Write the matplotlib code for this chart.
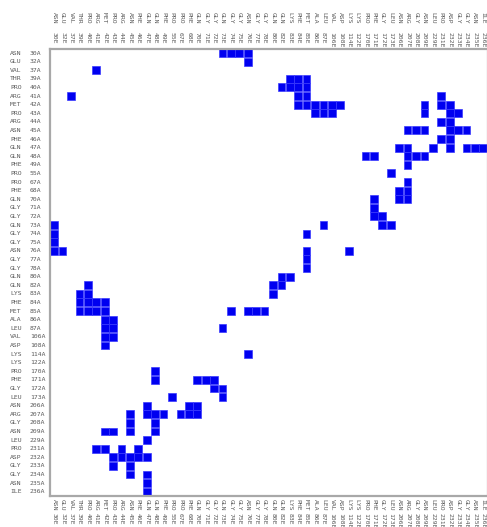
import matplotlib
matplotlib.use("Agg")
import matplotlib.pyplot as plt
from matplotlib.patches import Rectangle
from matplotlib import transforms

res_names = ["ASN", "GLU", "VAL", "THR", "PRO", "ARG", "MET", "PRO", "ARG", "ASN",
             "PHE", "GLN", "GLN", "PHE", "PRO", "PRO", "PHE", "GLN", "GLY", "GLY",
             "GLN", "GLY", "GLY", "ASN", "GLY", "GLY", "GLN", "GLN", "LYS", "PHE",
             "MET", "ALA", "LEU", "VAL", "ASP", "LYS", "LYS", "PRO", "PHE", "GLY",
             "LEU", "ASN", "ARG", "GLY", "ASN", "LEU", "PRO", "ASP", "GLY", "GLY",
             "ASN", "ILE"]
res_nums = [30, 32, 37, 39, 40, 41, 42, 43, 44, 45, 46, 47, 48, 49, 55, 67, 68, 70, 71, 72,
            73, 74, 75, 76, 77, 78, 80, 82, 83, 84, 85, 86, 87, 106, 108, 114, 122, 170, 171, 172,
            173, 206, 207, 208, 209, 229, 231, 232, 233, 234, 235, 236]
row_chain = "A"
col_chain = "E"

# contacts: row index (chain A residue) -> column indices (chain E residue)
contacts = {
    0: [20, 21, 22, 23],
    1: [23],
    2: [5],
    3: [28, 29, 30],
    4: [27, 28, 29, 30],
    5: [2, 29, 30, 46],
    6: [29, 30, 31, 32, 33, 34, 44, 46, 47],
    7: [31, 32, 33, 44, 47, 48],
    8: [46, 47],
    9: [42, 43, 44, 47, 48, 49],
    10: [46, 47],
    11: [41, 42, 45, 47, 49, 50, 51],
    12: [37, 38, 42, 43, 44],
    13: [42],
    14: [40],
    15: [42],
    16: [41, 42],
    17: [38, 41, 42],
    18: [38],
    19: [38, 39],
    20: [0, 32, 39, 40],
    21: [0, 30],
    22: [0],
    23: [0, 1, 30, 35],
    24: [30],
    25: [30],
    26: [27, 28],
    27: [4, 26, 27],
    28: [3, 4, 26],
    29: [3, 4, 5, 6],
    30: [3, 4, 5, 6, 21, 23, 24, 25],
    31: [6, 7],
    32: [6, 7, 20],
    33: [6, 7],
    34: [6],
    35: [23],
    37: [12],
    38: [12, 17, 18, 19],
    39: [19, 20],
    40: [14, 20],
    41: [11, 16, 17],
    42: [9, 11, 12, 13, 15, 16, 17],
    43: [9, 12],
    44: [6, 7, 9, 12],
    45: [11],
    46: [5, 6, 8, 10],
    47: [7, 8, 9, 10, 11],
    48: [7, 9],
    49: [9, 11],
    50: [11],
    51: [11],
}

W, H = 487, 527
fig = plt.figure(figsize=(W / 100, H / 100), dpi=100)
n = len(res_names)
left_px, right_px, top_px, bot_px = 50, 487.5, 48.7, 496
ax = fig.add_axes([left_px / W, 1 - bot_px / H, (right_px - left_px) / W, (bot_px - top_px) / H])
ax.set_xlim(0, n)
ax.set_ylim(n, 0)
ax.set_xticks([])
ax.set_yticks([])
for s in ax.spines.values():
    s.set_color("#a8a8a8")
    s.set_linewidth(1.6)

for r, cols in contacts.items():
    for c in cols:
        ax.add_patch(Rectangle((c + 0.04, r + 0.04), 0.92, 0.92, facecolor="#0000f0",
                               edgecolor="#3a3aff", linewidth=0.5))

font = dict(family="DejaVu Sans Mono", fontsize=4.6, color="#5a5a5a")
ty = transforms.blended_transform_factory(fig.transFigure, ax.transData)
tx = transforms.blended_transform_factory(ax.transData, fig.transFigure)
for i in range(n):
    yc = i + 0.5
    ax.text(10 / W, yc, res_names[i], transform=ty, ha="left", va="center", **font)
    ax.text(30 / W, yc, f"{res_nums[i]}{row_chain}", transform=ty, ha="left", va="center", **font)
for j in range(n):
    xc = j + 0.5
    ax.text(xc, 1 - 12 / H, res_names[j], transform=tx, ha="center", va="top", rotation=270, **font)
    ax.text(xc, 1 - 32 / H, f"{res_nums[j]}{col_chain}", transform=tx, ha="center", va="top", rotation=270, **font)
    ax.text(xc, 1 - 499 / H, res_names[j], transform=tx, ha="center", va="top", rotation=270, **font)
    ax.text(xc, 1 - 513 / H, f"{res_nums[j]}{col_chain}", transform=tx, ha="center", va="top", rotation=270, **font)

fig.savefig("out.png", dpi=100, facecolor="white")
